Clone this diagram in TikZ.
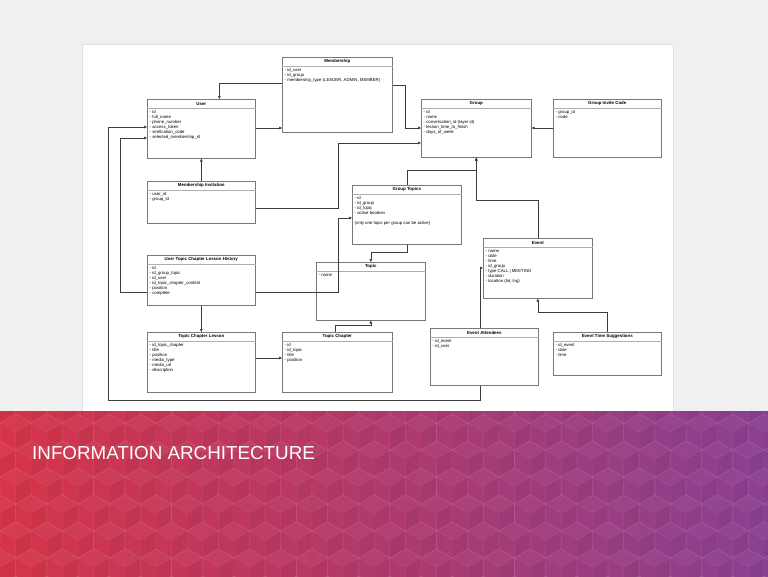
\documentclass[tikz,border=0pt]{standalone}
\usepackage{fontspec}
\setmainfont{Liberation Sans}
\usetikzlibrary{calc,arrows.meta,shadows}
\definecolor{pagebg}{RGB}{240,240,240}
\definecolor{boxline}{RGB}{120,120,120}
\definecolor{conline}{RGB}{60,60,60}
\definecolor{bannerL}{RGB}{214,52,72}
\definecolor{bannerR}{RGB}{138,64,146}
\tikzset{
  erbox/.style={draw=boxline, line width=0.6pt, fill=white, rectangle, anchor=north west, inner sep=0pt,
    drop shadow={shadow xshift=0.7pt, shadow yshift=-0.7pt, opacity=0.3}},
  sepline/.style={draw=boxline!60, line width=0.4pt},
  titletext/.style={font=\fontsize{4.4}{5}\selectfont\bfseries, inner sep=0pt, anchor=center},
  fieldtext/.style={font=\fontsize{4.3}{5}\selectfont, inner sep=0pt, anchor=north west, align=left},
  arr/.style={draw=conline, line width=0.5pt, -{Triangle[length=3pt,width=2.6pt]}},
  hexline/.style={draw=white, draw opacity=0.07, line width=0.6pt},
}
\newcommand\erent[7]{%
  \node[erbox, minimum width=#4pt, minimum height=#5pt] (#1) at (#2,#3) {};
  \draw[sepline] ($(#1.north west)+(0,9)$) -- ($(#1.north east)+(0,9)$);
  \node[titletext] (#1-t) at ($(#1.north)+(0,4.7)$) {#6};
  \node[fieldtext] (#1-f) at ($(#1.north west)+(2.5,11.5)$) {#7};
}
\begin{document}
\begin{tikzpicture}[x=1pt,y=-1pt]
\useasboundingbox (0,0) rectangle (768,576);
\fill[pagebg] (0,0) rectangle (768,576);
\fill[black, opacity=0.06] (82,44) rectangle (674,413);
\fill[white] (83,45) rectangle (673,412);

\erent{mem}{282}{57}{110}{75}{Membership}{- id\_user\\- id\_group\\- membership\_type (LEADER, ADMIN, MEMBER)}
\erent{user}{147}{99}{108}{59}{User}{- id\\- full\_name\\- phone\_number\\- access\_token\\- verification\_code\\- selected\_membership\_id}
\erent{group}{421}{99}{110}{58}{Group}{- id\\- name\\- conversation\_id (layer id)\\- lesson\_time\_to\_finish\\- days\_of\_week}
\erent{gic}{553}{99}{108}{58}{Group Invite Code}{- group\_id\\- code}
\erent{mi}{147}{181}{108}{42}{Membership Invitation}{- user\_id\\- group\_id}
\erent{gt}{352}{185}{109}{59}{Group Topics}{- id\\- id\_group\\- id\_topic\\- active boolean\\[5pt](only one topic per group can be active)}
\erent{utclh}{147}{255}{108}{50}{User Topic Chapter Lesson History}{- id\\- id\_group\_topic\\- id\_user\\- id\_topic\_chapter\_content\\- position\\- complete}
\erent{topic}{316}{262}{109}{58}{Topic}{- name}
\erent{event}{483}{238}{109}{60}{Event}{- name\\- date\\- time\\- id\_group\\- type CALL | MEETING\\- duration\\- location (lat, lng)}
\erent{tcl}{147}{332}{108}{60}{Topic Chapter Lesson}{- id\_topic\_chapter\\- title\\- position\\- media\_type\\- media\_url\\- description}
\erent{tc}{282}{332}{110}{60}{Topic Chapter}{- id\\- id\_topic\\- title\\- position}
\erent{ea}{430}{328}{108}{57}{Event Attendees}{- id\_event\\- id\_user}
\erent{ets}{553}{332}{108}{43}{Event Time Suggestions}{- id\_event\\- date\\- time}

% connectors
\draw[arr] ($(mem.north west)+(0,26)$) -| ([xshift=18pt]user.north);
\draw[arr] ($(user.north east)+(0,29)$) -- ($(mem.north west)+(0,71)$);
\draw[arr] ($(mem.north east)+(0,28)$) -- ++(13,0) |- ($(group.north west)+(0,29)$);
\draw[arr] ($(gic.north west)+(0,29)$) -- ($(group.north east)+(0,29)$);
\draw[arr] (mi.north) -- (user.south);
\draw[arr] ($(mi.north east)+(0,27)$) -- ++(83,0) |- ($(group.north west)+(0,44)$);
\draw[arr] ($(utclh.north east)+(0,37)$) -- ++(83,0) |- ($(gt.north west)+(0,33)$);
\draw[arr] ($(utclh.north west)+(0,37)$) -- ++(-27,0) |- ($(user.north west)+(0,39)$);
\draw[arr] ([xshift=-4pt]ea.south) |- ($(user.north west)+(-39,301)$) |- ($(user.north west)+(0,28)$);
\draw[arr] (utclh.south) -- (tcl.north);
\draw[arr] ($(tcl.north east)+(0,26)$) -- ($(tc.north west)+(0,26)$);
\draw[arr] ([xshift=-2pt]tc.north) -- ++(0,-7) -| (topic.south);
\draw[arr] (gt.south) -- ++(0,8) -| (topic.north);
\draw[arr] (gt.north) -- ++(0,-15) -| (group.south);
\draw[arr] (event.north) -- ++(0,-38) -| (group.south);
\draw[arr] ([xshift=-4pt]ea.north) |- ($(event.north west)+(0,30)$);
\draw[arr] (ets.north) -- ++(0,-20) -| (event.south);

% banner
\shade[left color=bannerL, right color=bannerR] (0,411) rectangle (768,576);
\begin{scope}
\clip (0,411) rectangle (768,576);
\foreach \j in {0,...,7}{
  \foreach \i in {-1,...,25}{
    \pgfmathsetmacro\cx{\i*31.18 + mod(\j,2)*15.59}
    \pgfmathsetmacro\cy{405 + \j*27}
    \fill[white, opacity=0.035] (\cx,\cy) -- +(210:18) -- +(270:18) -- +(330:18) -- cycle;
    \fill[black, opacity=0.03] (\cx,\cy) -- +(330:18) -- +(30:18) -- +(90:18) -- cycle;
    \draw[hexline] (\cx,\cy) +(30:18) -- +(90:18) -- +(150:18) -- +(210:18) -- +(270:18) -- +(330:18) -- cycle;
    \draw[hexline] (\cx,\cy) -- +(90:18) (\cx,\cy) -- +(210:18) (\cx,\cy) -- +(330:18);
  }}
\end{scope}
\node[anchor=base west, text=white, font=\fontsize{18.8}{21}\selectfont, inner sep=0pt] (banner) at (32,459) {INFORMATION ARCHITECTURE};
\end{tikzpicture}
\end{document}
